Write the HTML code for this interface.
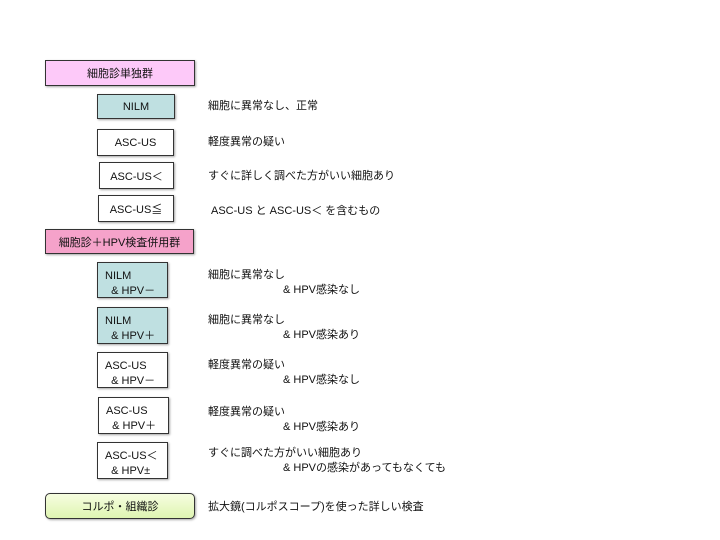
<!DOCTYPE html>
<html><head><meta charset="utf-8"><style>
body{margin:0;width:720px;height:540px;background:#fff;position:relative;overflow:hidden;font-family:"Liberation Sans","Noto Sans CJK JP",sans-serif;font-size:11px;color:#111}
.b{position:absolute;box-sizing:border-box;border:1px solid #333;box-shadow:1px 1px 2px rgba(0,0,0,.35);display:flex;align-items:center;justify-content:center;background:#fff}
.m{display:block;padding:6px 0 0 7px;line-height:15px}
.t{position:absolute;white-space:nowrap;line-height:14px}
</style></head><body>
<div class="b" style="left:45px;top:60px;width:150px;height:26px;background:#fdc9f9">細胞診単独群</div>
<div class="b" style="left:97px;top:94px;width:78px;height:25px;background:#bfe0e1">NILM</div>
<div class="t" style="left:208px;top:99px">細胞に異常なし、正常</div>
<div class="b" style="left:97px;top:129px;width:77px;height:27px">ASC-US</div>
<div class="t" style="left:208px;top:135px">軽度異常の疑い</div>
<div class="b" style="left:99px;top:162px;width:75px;height:27px">ASC-US＜</div>
<div class="t" style="left:208px;top:169px">すぐに詳しく調べた方がいい細胞あり</div>
<div class="b" style="left:98px;top:195px;width:76px;height:27px">ASC-US≦</div>
<div class="t" style="left:211px;top:204px">ASC-US と ASC-US＜ を含むもの</div>
<div class="b" style="left:45px;top:229px;width:149px;height:25px;background:#f5a2ca">細胞診＋HPV検査併用群</div>

<div class="b m" style="left:97px;top:262px;width:71px;height:36px;background:#bfe0e1">NILM<br>&nbsp;&nbsp;&amp; HPV－</div>
<div class="t" style="left:208px;top:268px">細胞に異常なし</div><div class="t" style="left:283px;top:283px">&amp; HPV感染なし</div>
<div class="b m" style="left:97px;top:307px;width:71px;height:37px;background:#bfe0e1">NILM<br>&nbsp;&nbsp;&amp; HPV＋</div>
<div class="t" style="left:208px;top:313px">細胞に異常なし</div><div class="t" style="left:283px;top:328px">&amp; HPV感染あり</div>
<div class="b m" style="left:97px;top:352px;width:71px;height:36px">ASC-US<br>&nbsp;&nbsp;&amp; HPV－</div>
<div class="t" style="left:208px;top:358px">軽度異常の疑い</div><div class="t" style="left:283px;top:373px">&amp; HPV感染なし</div>
<div class="b m" style="left:98px;top:397px;width:71px;height:37px">ASC-US<br>&nbsp;&nbsp;&amp; HPV＋</div>
<div class="t" style="left:208px;top:405px">軽度異常の疑い</div><div class="t" style="left:283px;top:420px">&amp; HPV感染あり</div>
<div class="b m" style="left:97px;top:442px;width:71px;height:37px">ASC-US＜<br>&nbsp;&nbsp;&amp; HPV±</div>
<div class="t" style="left:208px;top:446px">すぐに調べた方がいい細胞あり</div><div class="t" style="left:283px;top:461px">&amp; HPVの感染があってもなくても</div>
<div class="b" style="left:45px;top:493px;width:150px;height:26px;border-radius:5px;background:linear-gradient(#f6fde0,#dff5b2)">コルポ・組織診</div>
<div class="t" style="left:208px;top:500px">拡大鏡(コルポスコープ)を使った詳しい検査</div>
</body></html>
